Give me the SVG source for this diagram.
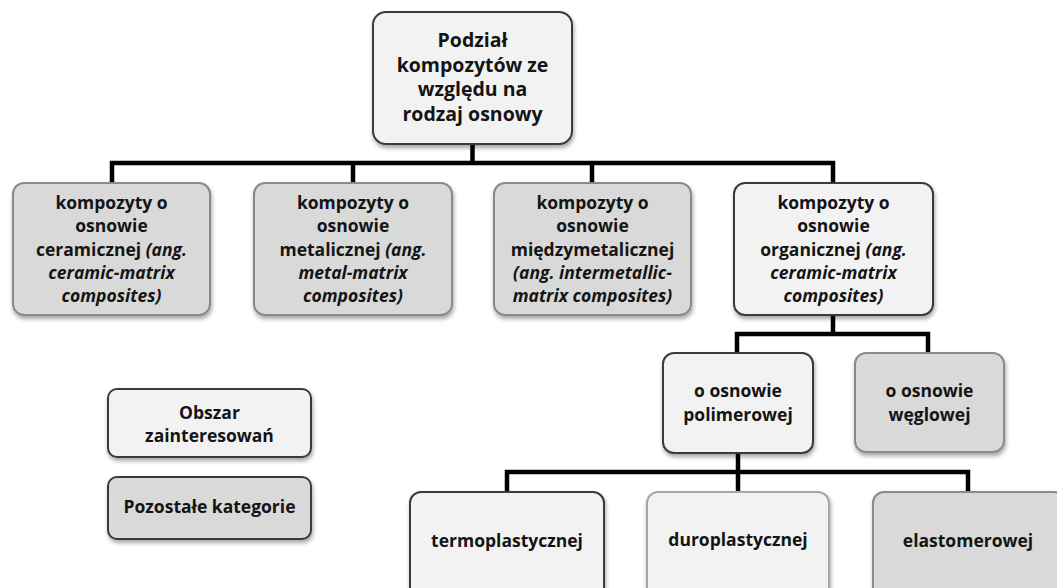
<svg xmlns="http://www.w3.org/2000/svg" width="1057" height="588" viewBox="0 0 1057 588">
<defs>
<filter id="sh" x="-10%" y="-10%" width="125%" height="130%">
<feDropShadow dx="1" dy="3" stdDeviation="2" flood-color="#000" flood-opacity="0.35"/>
</filter>
<style>
.box{filter:url(#sh);stroke-width:2}
.lt{fill:#f2f2f2}
.dk{fill:#d9d9d9}
.bd{stroke:#3a3a3a}
.bg{stroke:#8a8a8a}
.bl{stroke:#a6a6a6}
text{font-family:"Open Sans","Liberation Sans",sans-serif;font-weight:bold;font-size:17.5px;fill:#141414;text-anchor:middle}
.big{font-size:19.5px}
.it{font-style:italic}
.con{fill:none;stroke:#000;stroke-width:4.5;stroke-linejoin:miter;stroke-linecap:butt}
</style>
</defs>
<rect width="1057" height="588" fill="#fff"/>
<g id="connectors" class="con">
<path d="M472.5 144 V163"/>
<path d="M112 184 V163 H833 V184"/>
<path d="M353 163 V184"/>
<path d="M592 163 V184"/>
<path d="M833 315 V334"/>
<path d="M737 354 V334 H928 V354"/>
<path d="M738 453 V472"/>
<path d="M507 493 V472 H968 V493"/>
<path d="M738 472 V493"/>
</g>
<g id="root">
<rect class="box lt bd" x="373" y="12" width="199" height="132" rx="13"/>
<text class="big" x="472.5" y="47">Podział</text>
<text class="big" x="472.5" y="71.5">kompozytów ze</text>
<text class="big" x="472.5" y="96">względu na</text>
<text class="big" x="472.5" y="120.5">rodzaj osnowy</text>
</g>
<g id="ceramic">
<rect class="box dk bg" x="13" y="183" width="197" height="132" rx="11"/>
<text x="111.5" y="208.5">kompozyty o</text>
<text x="111.5" y="232">osnowie</text>
<text x="111.5" y="255.5">ceramicznej <tspan class="it">(ang.</tspan></text>
<text class="it" x="111.5" y="278.5">ceramic-matrix</text>
<text class="it" x="111.5" y="302">composites)</text>
</g>
<g id="metal">
<rect class="box dk bg" x="254" y="183" width="198" height="132" rx="11"/>
<text x="353" y="208.5">kompozyty o</text>
<text x="353" y="232">osnowie</text>
<text x="353" y="255.5">metalicznej <tspan class="it">(ang.</tspan></text>
<text class="it" x="353" y="278.5">metal-matrix</text>
<text class="it" x="353" y="302">composites)</text>
</g>
<g id="intermetallic">
<rect class="box dk bg" x="494" y="183" width="197" height="132" rx="11"/>
<text x="592.5" y="208.5">kompozyty o</text>
<text x="592.5" y="232">osnowie</text>
<text x="592.5" y="255.5">międzymetalicznej</text>
<text class="it" x="592.5" y="278.5">(ang. intermetallic-</text>
<text class="it" x="592.5" y="302">matrix composites)</text>
</g>
<g id="organic">
<rect class="box lt bd" x="734" y="183" width="199" height="132" rx="11"/>
<text x="833.5" y="208.5">kompozyty o</text>
<text x="833.5" y="232">osnowie</text>
<text x="833.5" y="255.5">organicznej <tspan class="it">(ang.</tspan></text>
<text class="it" x="833.5" y="278.5">ceramic-matrix</text>
<text class="it" x="833.5" y="302">composites)</text>
</g>
<g id="polymer">
<rect class="box lt bd" x="663" y="353" width="150" height="100" rx="11"/>
<text x="738" y="397">o osnowie</text>
<text x="738" y="421">polimerowej</text>
</g>
<g id="carbon">
<rect class="box dk bg" x="855" y="353" width="149" height="99" rx="11"/>
<text x="929.5" y="397">o osnowie</text>
<text x="929.5" y="421">węglowej</text>
</g>
<g id="thermoplastic">
<rect class="box lt bd" x="410" y="492" width="194" height="112" rx="11"/>
<text x="507" y="547">termoplastycznej</text>
</g>
<g id="duroplastic">
<rect class="box lt bl" x="647" y="492" width="182" height="112" rx="11"/>
<text x="738" y="546">duroplastycznej</text>
</g>
<g id="elastomer">
<rect class="box dk bg" x="873" y="492" width="192" height="112" rx="11"/>
<text x="968" y="547">elastomerowej</text>
</g>
<g id="legend-interest">
<rect class="box lt bd" x="108" y="389" width="203" height="68" rx="9"/>
<text x="209.5" y="418.5">Obszar</text>
<text x="209.5" y="441.5">zainteresowań</text>
</g>
<g id="legend-other">
<rect class="box dk bd" x="108" y="477" width="203" height="62" rx="9"/>
<text x="209.5" y="513">Pozostałe kategorie</text>
</g>
</svg>
